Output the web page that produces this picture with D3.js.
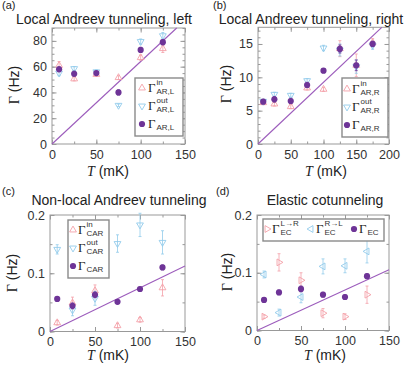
<!DOCTYPE html>
<html lang="en">
<head>
<meta charset="UTF-8" />
<script src="https://d3js.org/d3.v7.min.js"></script>
<title>Andreev tunneling rates</title>
<style>
  body { margin: 0; background: #fff; }
  svg { font-family: "Liberation Sans", Arial, sans-serif; }
  .tick text { font-size: 12.5px; fill: #333; font-family: "Liberation Sans", Arial, sans-serif; }
  .tick line { stroke: #999; }
  .frame { fill: none; stroke: #999; stroke-width: 1; }
  .title { font-size: 14px; fill: #222; text-anchor: middle; }
  .letter { font-size: 11px; fill: #222; }
  .serif { font-family: "Liberation Serif", "Times New Roman", serif; }
</style>
</head>
<body>
<svg id="chart" width="407" height="367"></svg>
<script>
// temperatures (mK)
const tA = [8, 25, 50, 75, 100, 125];
const tB = [8, 25, 50, 75, 100, 125, 150, 175];
const tC = [8, 25, 50, 75, 100, 125];
const tD = [8, 25, 50, 75, 100, 125];

// (a) local Andreev, left (Hz)
const arLin = [61, 50.5, 54, 51.5, 67, 74];
const arLinErr = [3, 1.5, 1.5, 1.5, 2, 3];
const arLout = [55, 58.5, 56, 30, 79.5, 84];
const arLoutErr = [2, 1.5, 1.5, 1, 2, 2.5];
const arL = [58, 54.5, 55, 40, 73, 79];
const arLErr = [2, 2, 1.5, 2, 2, 2];

// (b) local Andreev, right (Hz)
const arRin = [6.2, 6.0, 5.6, 8.4, 8.2, 14.3, 11.8, 15.2];
const arRinErr = [0.3, 0.3, 0.3, 0.3, 0.3, 1.2, 1.7, 0.6];
const arRout = [6.4, 7.45, 7.3, 9.5, 14.4, 14.1, 11.6, 14.8];
const arRoutErr = [0.3, 0.3, 0.3, 0.3, 0.4, 0.9, 1.0, 0.6];
const arR = [6.35, 6.7, 6.45, 8.85, 11, 14.25, 11.8, 15];
const arRErr = [0.3, 0.4, 0.4, 0.4, 0.3, 0.6, 0.8, 0.4];

// (c) non-local Andreev (Hz)
const carIn = [0.015, 0.049, 0.07, 0.010, 0.020, 0.075];
const carInErr = [0.004, 0.01, 0.01, 0.004, 0.004, 0.014];
const carOut = [0.141, 0.037, 0.057, 0.151, 0.183, 0.153];
const carOutErr = [0.008, 0.01, 0.012, 0.015, 0.02, 0.02];
const car = [0.056, 0.044, 0.063, 0.051, 0.073, 0.11];
const carErr = [0.003, 0.005, 0.005, 0.003, 0.003, 0.004];

// (d) elastic cotunneling (Hz)
const ecLR = [0.024, 0.118, 0.087, 0.030, 0.024, 0.062];
const ecLRErr = [0.003, 0.015, 0.013, 0.008, 0.005, 0.015];
const ecRL = [0.097, 0.031, 0.058, 0.111, 0.112, 0.137];
const ecRLErr = [0.006, 0.006, 0.01, 0.013, 0.012, 0.02];
const ec = [0.053, 0.066, 0.072, 0.062, 0.058, 0.094];
const ecErr = [0.004, 0.004, 0.005, 0.004, 0.004, 0.004];

// linear guide slopes (Hz/mK)
const slopes = [0.64, 0.0926, 0.00075, 0.0007];

// tick labels
const xTicks150 = [0, 50, 100, 150];
const xTicks200 = [0, 50, 100, 150, 200];
const yTicksA = [0, 20, 40, 60, 80];
const yTicksB = [0, 5, 10, 15];
const yTicksCD = [0, 0.1, 0.2];

const pink = "#f4a0a8";
const blue = "#92cbeb";
const purple = "#6e3497";
const lineColor = "#9c5cbc";

const svg = d3.select("#chart");

const shapes = {
  up: { type: d3.symbolTriangle, rot: 0 },
  down: { type: d3.symbolTriangle, rot: 180 },
  right: { type: d3.symbolTriangle, rot: 90 },
  left: { type: d3.symbolTriangle, rot: -90 },
};

function marker(g, shape, color, cx, cy) {
  if (shape === "dot") {
    g.append("circle").attr("cx", cx).attr("cy", cy).attr("r", 3.1).attr("fill", color);
    return;
  }
  const s = shapes[shape];
  g.append("path")
    .attr("d", d3.symbol().type(s.type).size(20)())
    .attr("transform", `translate(${cx},${cy}) rotate(${s.rot})`)
    .attr("fill", "none")
    .attr("stroke", color)
    .attr("stroke-width", 0.9);
}

function legendLabel(g, x, y, sup, sub) {
  g.append("text").attr("class", "serif").attr("x", x).attr("y", y + 4)
    .attr("font-size", 13).attr("fill", "#222").text("Γ");
  if (sup) g.append("text").attr("x", x + 8.5).attr("y", y - 3)
    .attr("font-size", 8).attr("fill", "#333").text(sup);
  g.append("text").attr("x", x + 8.5).attr("y", y + 5.5)
    .attr("font-size", 8).attr("fill", "#333").text(sub);
}

function drawPanel(p) {
  const g = svg.append("g");
  const x = d3.scaleLinear().domain(p.xDomain).range([p.left, p.right]);
  const y = d3.scaleLinear().domain(p.yDomain).range([p.bottom, p.top]);
  const fmt = d => String(d);

  const xMinor = d3.range(p.xDomain[0], p.xDomain[1] + 1e-9, p.xMinor);
  const yMinor = d3.range(p.yDomain[0], p.yDomain[1] + 1e-9, p.yMinor);

  // minor ticks, all four sides
  g.append("g").attr("transform", `translate(0,${p.bottom})`)
    .call(d3.axisBottom(x).tickValues(xMinor).tickSize(-2.5).tickFormat(""));
  g.append("g").attr("transform", `translate(0,${p.top})`)
    .call(d3.axisTop(x).tickValues(xMinor).tickSize(-2.5).tickFormat(""));
  g.append("g").attr("transform", `translate(${p.left},0)`)
    .call(d3.axisLeft(y).tickValues(yMinor).tickSize(-2.5).tickFormat(""));
  g.append("g").attr("transform", `translate(${p.right},0)`)
    .call(d3.axisRight(y).tickValues(yMinor).tickSize(-2.5).tickFormat(""));

  // major ticks with labels
  g.append("g").attr("transform", `translate(0,${p.bottom})`)
    .call(d3.axisBottom(x).tickValues(p.xTicks).tickSize(-4.5).tickPadding(6).tickFormat(fmt));
  g.append("g").attr("transform", `translate(0,${p.top})`)
    .call(d3.axisTop(x).tickValues(p.xTicks).tickSize(-4.5).tickFormat(""));
  g.append("g").attr("transform", `translate(${p.left},0)`)
    .call(d3.axisLeft(y).tickValues(p.yTicks).tickSize(-4.5).tickPadding(5).tickFormat(fmt));
  g.append("g").attr("transform", `translate(${p.right},0)`)
    .call(d3.axisRight(y).tickValues(p.yTicks).tickSize(-4.5).tickFormat(""));
  g.selectAll(".domain").remove();

  g.append("rect").attr("class", "frame")
    .attr("x", p.left).attr("y", p.top)
    .attr("width", p.right - p.left).attr("height", p.bottom - p.top);

  // linear guide from the origin, clipped at the frame
  const tEnd = Math.min(p.xDomain[1], p.yDomain[1] / p.slope);
  g.append("line")
    .attr("x1", x(0)).attr("y1", y(0))
    .attr("x2", x(tEnd)).attr("y2", y(tEnd * p.slope))
    .attr("stroke", lineColor).attr("stroke-width", 1.1);

  // series with error bars
  p.series.forEach(s => {
    s.v.forEach((v, i) => {
      const cx = x(s.t[i]);
      const e = s.e[i];
      g.append("line").attr("x1", cx).attr("x2", cx)
        .attr("y1", y(v - e)).attr("y2", y(v + e))
        .attr("stroke", s.color).attr("stroke-width", 0.8);
      [v - e, v + e].forEach(yy => {
        g.append("line").attr("x1", cx - 1.5).attr("x2", cx + 1.5)
          .attr("y1", y(yy)).attr("y2", y(yy))
          .attr("stroke", s.color).attr("stroke-width", 0.8);
      });
      marker(g, s.shape, s.color, cx, y(v));
    });
  });

  // legend
  const L = p.legend;
  g.append("rect").attr("x", L.x).attr("y", L.y).attr("width", L.w).attr("height", L.h)
    .attr("fill", "#fff").attr("stroke", "#8a8a8a").attr("stroke-width", 1.4);
  L.items.forEach(it => {
    const s = p.series[it.s];
    marker(g, s.shape, s.color, it.mx, it.my);
    legendLabel(g, it.gx, it.my, it.sup, it.sub);
  });

  // texts
  g.append("text").attr("class", "letter").attr("x", p.letterX).attr("y", p.letterY).text(p.letter);
  g.append("text").attr("class", "title").attr("x", p.titleX).attr("y", p.titleY).text(p.title);

  const yl = g.append("text")
    .attr("transform", `translate(${p.ylabX},${p.ylabY}) rotate(-90)`)
    .attr("text-anchor", "middle").attr("font-size", 14).attr("fill", "#222");
  yl.append("tspan").attr("class", "serif").text("Γ");
  yl.append("tspan").text(" (Hz)");

  const xl = g.append("text").attr("x", p.xlabX).attr("y", p.xlabY)
    .attr("text-anchor", "middle").attr("font-size", 14).attr("fill", "#222");
  xl.append("tspan").attr("class", "serif").attr("font-style", "italic").text("T");
  xl.append("tspan").text(" (mK)");
}

drawPanel({
  letter: "(a)", letterX: 2, letterY: 8.5,
  title: "Local Andreev tunneling, left", titleX: 104, titleY: 23.5,
  left: 52, right: 185, top: 28, bottom: 144,
  xDomain: [0, 150], yDomain: [0, 90], xTicks: xTicks150, yTicks: yTicksA,
  xMinor: 25, yMinor: 5, slope: slopes[0],
  ylabX: 19, ylabY: 85, xlabX: 108, xlabY: 176,
  series: [
    { t: tA, v: arLin, e: arLinErr, color: pink, shape: "up" },
    { t: tA, v: arLout, e: arLoutErr, color: blue, shape: "down" },
    { t: tA, v: arL, e: arLErr, color: purple, shape: "dot" },
  ],
  legend: { x: 135, y: 78, w: 48, h: 58, items: [
    { s: 0, mx: 142, my: 88, gx: 148, sup: "in", sub: "AR,L" },
    { s: 1, mx: 142, my: 106, gx: 148, sup: "out", sub: "AR,L" },
    { s: 2, mx: 142, my: 124, gx: 148, sup: "", sub: "AR,L" },
  ] },
});

drawPanel({
  letter: "(b)", letterX: 213, letterY: 8.5,
  title: "Local Andreev tunneling, right", titleX: 311, titleY: 23.5,
  left: 258, right: 389, top: 27.3, bottom: 144,
  xDomain: [0, 200], yDomain: [0, 17.5], xTicks: xTicks200, yTicks: yTicksB,
  xMinor: 25, yMinor: 1, slope: slopes[1],
  ylabX: 231, ylabY: 84, xlabX: 326, xlabY: 176,
  series: [
    { t: tB, v: arRin, e: arRinErr, color: pink, shape: "up" },
    { t: tB, v: arRout, e: arRoutErr, color: blue, shape: "down" },
    { t: tB, v: arR, e: arRErr, color: purple, shape: "dot" },
  ],
  legend: { x: 342, y: 78, w: 46, h: 59, items: [
    { s: 0, mx: 347, my: 89, gx: 352, sup: "in", sub: "AR,R" },
    { s: 1, mx: 347, my: 107, gx: 352, sup: "out", sub: "AR,R" },
    { s: 2, mx: 347, my: 125, gx: 352, sup: "", sub: "AR,R" },
  ] },
});

drawPanel({
  letter: "(c)", letterX: 2, letterY: 195,
  title: "Non-local Andreev tunneling", titleX: 119, titleY: 205,
  left: 50, right: 185, top: 215, bottom: 331.5,
  xDomain: [0, 150], yDomain: [0, 0.2], xTicks: xTicks150, yTicks: yTicksCD,
  xMinor: 25, yMinor: 0.05, slope: slopes[2],
  ylabX: 17, ylabY: 273, xlabX: 108, xlabY: 360,
  series: [
    { t: tC, v: carIn, e: carInErr, color: pink, shape: "up" },
    { t: tC, v: carOut, e: carOutErr, color: blue, shape: "down" },
    { t: tC, v: car, e: carErr, color: purple, shape: "dot" },
  ],
  legend: { x: 68, y: 220, w: 41, h: 58, items: [
    { s: 0, mx: 73, my: 230, gx: 78, sup: "in", sub: "CAR" },
    { s: 1, mx: 73, my: 248, gx: 78, sup: "out", sub: "CAR" },
    { s: 2, mx: 73, my: 266, gx: 78, sup: "", sub: "CAR" },
  ] },
});

drawPanel({
  letter: "(d)", letterX: 216, letterY: 195,
  title: "Elastic cotunneling", titleX: 325, titleY: 205,
  left: 257, right: 389, top: 215, bottom: 330.5,
  xDomain: [0, 150], yDomain: [0, 0.2], xTicks: xTicks150, yTicks: yTicksCD,
  xMinor: 25, yMinor: 0.05, slope: slopes[3],
  ylabX: 232, ylabY: 272, xlabX: 325, xlabY: 360,
  series: [
    { t: tD, v: ecLR, e: ecLRErr, color: pink, shape: "right" },
    { t: tD, v: ecRL, e: ecRLErr, color: blue, shape: "left" },
    { t: tD, v: ec, e: ecErr, color: purple, shape: "dot" },
  ],
  legend: { x: 263, y: 219, w: 121, h: 22, items: [
    { s: 0, mx: 267, my: 229, gx: 272, sup: "L→R", sub: "EC" },
    { s: 1, mx: 311, my: 229, gx: 316, sup: "R→L", sub: "EC" },
    { s: 2, mx: 354, my: 229, gx: 359, sup: "", sub: "EC" },
  ] },
});
</script>
</body>
</html>
